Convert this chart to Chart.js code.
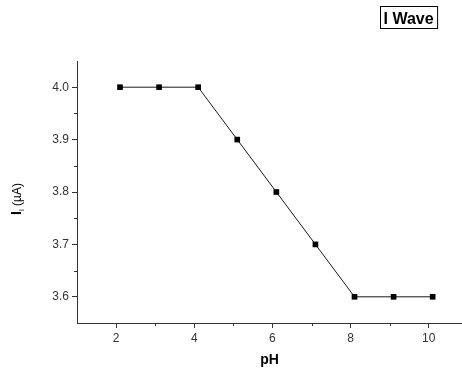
<!DOCTYPE html>
<html lang="en">
<head>
  <meta charset="UTF-8" />
  <title>I Wave vs pH</title>
  <style>
    * { box-sizing: border-box; }
    body {
      margin: 0;
      background: #fff;
    }
    #wrap {
      position: relative;
      width: 462px;
      height: 373px;
    }
  </style>
</head>
<body>
  <div id="wrap">
    <canvas id="waveChart" width="462" height="373"></canvas>
  </div>

  <script src="https://cdn.jsdelivr.net/npm/chart.js"></script>
  <script>
    // pH values and limiting current of the wave
    const phValues = [2.1, 3.1, 4.1, 5.1, 6.1, 7.1, 8.1, 9.1, 10.1];
    const currents = [4.0, 4.0, 4.0, 3.9, 3.8, 3.7, 3.6, 3.6, 3.6];

    const xMajor = [2, 4, 6, 8, 10];
    const xMinor = [3, 5, 7, 9];
    const yMajor = [3.6, 3.7, 3.8, 3.9, 4.0];
    const yMinor = [3.65, 3.75, 3.85, 3.95];

    const seriesName = 'I Wave';
    const axisColor = '#333';
    const font = 'Liberation Sans, Arial, sans-serif';

    // short minor ticks, y-axis title with subscript, boxed legend label
    const extras = {
      id: 'extras',
      afterDraw(chart) {
        const c = chart.ctx;
        const xs = chart.scales.x, ys = chart.scales.y;
        const area = chart.chartArea;
        c.save();
        c.strokeStyle = axisColor;
        c.lineWidth = 1;
        c.beginPath();
        xMinor.forEach(v => {
          const px = Math.round(xs.getPixelForValue(v)) + 0.5;
          c.moveTo(px, area.bottom);
          c.lineTo(px, area.bottom + 3);
        });
        yMinor.forEach(v => {
          const py = Math.round(ys.getPixelForValue(v)) + 0.5;
          c.moveTo(area.left, py);
          c.lineTo(area.left - 3, py);
        });
        c.stroke();

        // y title: I_l (µA)
        c.translate(16, 199);
        c.rotate(-Math.PI / 2);
        c.fillStyle = '#000';
        c.textBaseline = 'alphabetic';
        c.font = 'bold 14px ' + font;
        const w1 = c.measureText('I').width;
        c.font = '8px ' + font;
        const w2 = c.measureText('l').width;
        c.font = '12px ' + font;
        const w3 = c.measureText(' (\u00b5A)').width;
        let x0 = -(w1 + w2 + w3) / 2;
        c.font = 'bold 14px ' + font;
        c.fillText('I', x0, 5);
        x0 += w1;
        c.font = '8px ' + font;
        c.fillText('l', x0, 8);
        x0 += w2;
        c.font = '12px ' + font;
        c.fillText(' (\u00b5A)', x0, 5);
        c.restore();

        // legend box
        c.save();
        c.font = 'bold 16px ' + font;
        const tw = c.measureText(seriesName).width;
        const bx = 380, by = 6;
        c.strokeStyle = '#000';
        c.lineWidth = 1;
        c.strokeRect(bx + 0.5, by + 0.5, tw + 7, 22);
        c.fillStyle = '#000';
        c.textBaseline = 'alphabetic';
        c.fillText(seriesName, bx + 3.5, by + 18);
        c.restore();
      }
    };

    new Chart(document.getElementById('waveChart'), {
      type: 'line',
      data: {
        datasets: [{
          label: seriesName,
          data: phValues.map((x, i) => ({ x, y: currents[i] })),
          borderColor: '#1a1a1a',
          borderWidth: 1,
          pointStyle: 'rect',
          pointRadius: 4,
          pointBackgroundColor: '#000',
          pointBorderColor: '#000',
          pointBorderWidth: 0,
          tension: 0,
          fill: false
        }]
      },
      options: {
        responsive: false,
        animation: false,
        events: [],
        layout: { autoPadding: false, padding: { top: 61, right: 0, left: 0, bottom: 0 } },
        plugins: {
          legend: { display: false },
          tooltip: { enabled: false }
        },
        scales: {
          x: {
            type: 'linear',
            min: 1,
            max: 10.85,
            afterBuildTicks: s => { s.ticks = xMajor.map(v => ({ value: v })); },
            afterFit: s => { s.height = 50; s.paddingLeft = 0; s.paddingRight = 0; },
            border: { color: axisColor, width: 1 },
            grid: { drawOnChartArea: false, tickLength: 5, tickColor: axisColor },
            ticks: {
              color: '#333',
              padding: 3,
              font: { family: font, size: 12 },
              callback: v => String(v)
            },
            title: {
              display: true,
              text: 'pH',
              color: '#000',
              padding: { top: 1, bottom: 4.5 },
              font: { family: font, size: 14, weight: 'bold' }
            }
          },
          y: {
            min: 3.55,
            max: 4.05,
            afterBuildTicks: s => { s.ticks = yMajor.map(v => ({ value: v })); },
            afterFit: s => { s.width = 77; s.paddingTop = 0; s.paddingBottom = 0; },
            border: { color: axisColor, width: 1 },
            grid: { drawOnChartArea: false, tickLength: 5, tickColor: axisColor },
            ticks: {
              color: '#333',
              padding: 3,
              font: { family: font, size: 12 },
              callback: v => Number(v).toFixed(1)
            }
          }
        }
      },
      plugins: [extras]
    });
  </script>
</body>
</html>
